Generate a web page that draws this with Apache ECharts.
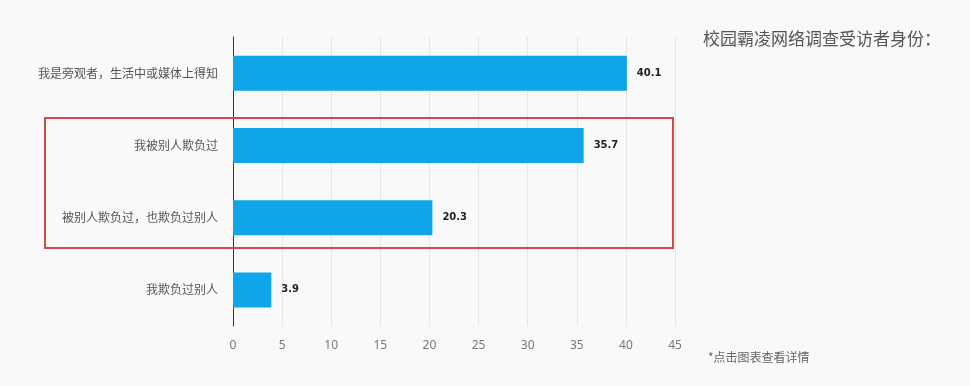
<!DOCTYPE html>
<html><head><meta charset="utf-8">
<script src="https://cdn.jsdelivr.net/npm/echarts@6/dist/echarts.min.js"></script>
<style>html,body{margin:0;padding:0;background:#f9f9f9}#c{width:970px;height:386px}</style>
</head><body><div id="c"></div>
<script>
const categories = ['我是旁观者，生活中或媒体上得知','我被别人欺负过','被别人欺负过，也欺负过别人','我欺负过别人'];
const values = [40.1, 35.7, 20.3, 3.9];
const titleText = '校园霸凌网络调查受访者身份：';
const noteText = '*点击图表查看详情';

const chart = echarts.init(document.getElementById('c'));
chart.setOption({
  backgroundColor: '#f9f9f9',
  animation: false,
  grid: {left: 233, right: 295, top: 37, bottom: 60},
  xAxis: {
    type: 'value', min: 0, max: 45, interval: 5,
    axisLine: {show: false}, axisTick: {show: false},
    splitLine: {lineStyle: {color: '#e6e6e6'}},
    axisLabel: {color: '#777', fontSize: 12, margin: 14, fontFamily: 'Noto Sans'}
  },
  yAxis: {
    type: 'category', inverse: true, data: categories,
    axisLine: {lineStyle: {color: '#333'}}, axisTick: {show: false},
    axisLabel: {color: '#555', fontSize: 12, margin: 15, fontFamily: 'Noto Sans CJK SC'}
  },
  series: [{
    type: 'bar', data: values, barWidth: 35,
    itemStyle: {color: '#0ea5e9'},
    label: {show: true, position: 'right', distance: 10, color: '#222', fontSize: 10, fontWeight: 'bold', fontFamily: 'DejaVu Sans'}
  }],
  graphic: [
    {type: 'rect', shape: {x: 45, y: 118, width: 628, height: 130}, style: {fill: 'none', stroke: '#d24a46', lineWidth: 2}, z: 10},
    {type: 'text', left: 703, top: 30, style: {text: titleText, fill: '#555', fontSize: 17, fontFamily: 'Noto Sans CJK SC'}},
    {type: 'text', left: 708, top: 351, style: {text: noteText, fill: '#666', fontSize: 12, fontFamily: 'Noto Sans CJK SC'}}
  ]
});
</script></body></html>
